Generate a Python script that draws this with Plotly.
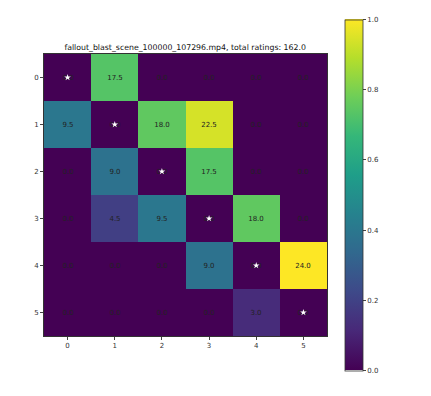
import plotly.graph_objects as go

labels = [0, 1, 2, 3, 4, 5]
ratings = [
    [0.0, 17.5, 0.0, 0.0, 0.0, 0.0],
    [9.5, 0.0, 18.0, 22.5, 0.0, 0.0],
    [0.0, 9.0, 0.0, 17.5, 0.0, 0.0],
    [0.0, 4.5, 9.5, 0.0, 18.0, 0.0],
    [0.0, 0.0, 0.0, 9.0, 0.0, 24.0],
    [0.0, 0.0, 0.0, 0.0, 3.0, 0.0],
]
total = 162.0

vmax = max(max(r) for r in ratings)
z = [[v / vmax for v in row] for row in ratings]
text = [[f"{v:.1f}" for v in row] for row in ratings]

fig = go.Figure()
fig.add_trace(go.Heatmap(
    z=z, x=labels, y=labels, colorscale="Viridis", zmin=0, zmax=1,
    text=text, texttemplate="%{text}", textfont=dict(size=7, color="#222"),
    colorbar=dict(
        x=1.0636, xanchor="left", xpad=0, y=0.5, yanchor="middle", ypad=0,
        thickness=18, lenmode="pixels", len=351,
        outlinewidth=0.8, outlinecolor="#333",
        tickvals=[0, 0.2, 0.4, 0.6, 0.8, 1.0], ticktext=["0.0", "0.2", "0.4", "0.6", "0.8", "1.0"],
        ticks="outside", ticklen=3, tickfont=dict(size=7, color="#333"),
    ),
))

# star on the diagonal
fig.add_trace(go.Scatter(
    x=labels, y=labels, mode="markers",
    marker=dict(symbol="star", size=5, color="white"),
    hoverinfo="skip", showlegend=False,
))

axis = dict(
    tickvals=labels, ticks="outside", ticklen=3, tickfont=dict(size=7, color="#333"),
    showgrid=False, zeroline=False, showline=True, linecolor="#333", linewidth=0.8,
    mirror=True, range=[-0.5, 5.5],
)
fig.update_xaxes(**axis)
fig.update_yaxes(**axis)
fig.update_yaxes(range=[5.5, -0.5])

fig.update_layout(
    width=431, height=396,
    margin=dict(l=36, r=112, t=46, b=68),
    paper_bgcolor="white", plot_bgcolor="white",
    font=dict(family="DejaVu Sans"),
    title=dict(
        text=f"fallout_blast_scene_100000_107296.mp4, total ratings: {total}",
        x=0.411, xanchor="center", y=1 - 39 / 396, yanchor="middle",
        font=dict(size=7.8, color="#111"),
    ),
)

fig.write_html("out.html")
